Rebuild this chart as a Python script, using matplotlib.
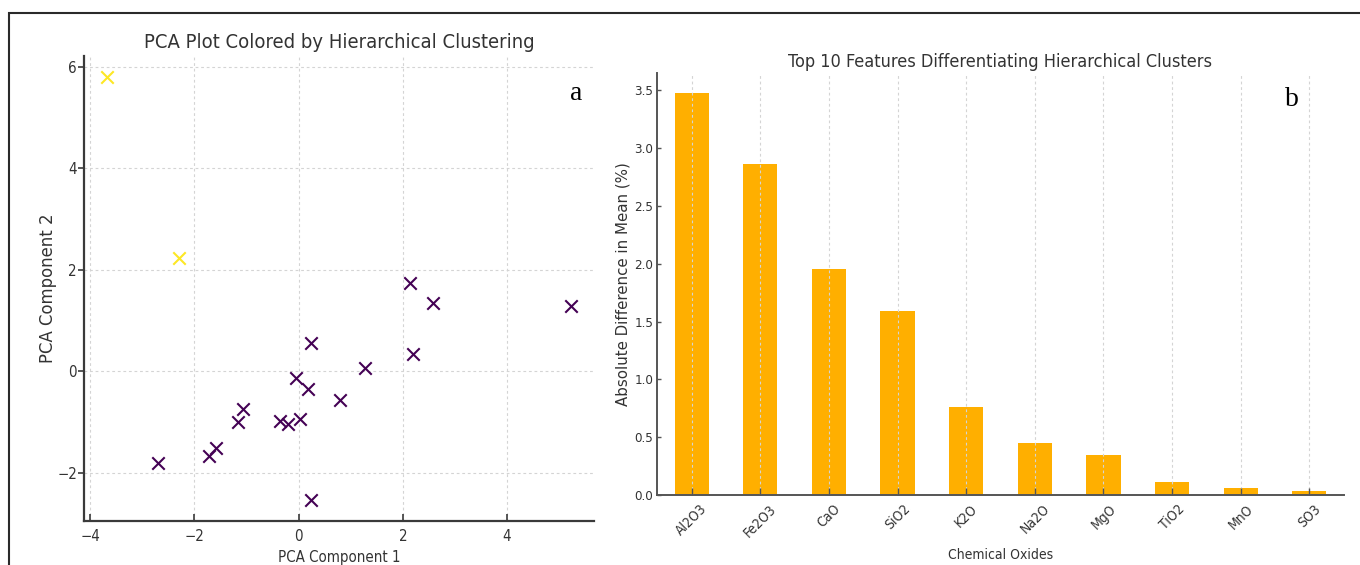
import matplotlib
matplotlib.use("Agg")
import matplotlib.pyplot as plt
from matplotlib.patches import Rectangle

plt.rcParams['font.family'] = ['DejaVu Sans']
plt.rcParams['font.stretch'] = 'condensed'

# PCA scores, cluster 0 (purple) and cluster 1 (yellow)
pc1_c0 = [2.13, 2.58, 5.23, 0.24, 2.19, 1.27, -0.05, 0.17, 0.80, -1.06,
          -1.17, -0.35, -0.20, 0.02, -1.59, -1.73, -2.70, 0.24]
pc2_c0 = [1.75, 1.35, 1.28, 0.55, 0.34, 0.06, -0.13, -0.34, -0.56, -0.75,
          -1.01, -0.98, -1.04, -0.95, -1.51, -1.68, -1.81, -2.53]
pc1_c1 = [-3.67, -2.29]
pc2_c1 = [5.80, 2.23]

# Top 10 oxides by absolute difference in cluster means
oxides = ['Al2O3', 'Fe2O3', 'CaO', 'SiO2', 'K2O', 'Na2O', 'MgO', 'TiO2', 'MnO', 'SO3']
abs_diff = [3.475, 2.865, 1.959, 1.594, 0.763, 0.446, 0.343, 0.116, 0.060, 0.037]

W, H = 1360, 565
fig = plt.figure(figsize=(W / 100, H / 100), dpi=100)

def px_axes(x0, x1, ytop, ybot):
    return fig.add_axes([x0 / W, 1 - ybot / H, (x1 - x0) / W, (ybot - ytop) / H])

spine_col = '#3a3a3a'
text_col = '#333333'
grid_kw = dict(color='#d4d4d4', linestyle=(0, (2.5, 2.5)), linewidth=0.8)

# ---- panel a: PCA scatter ----
ax1 = px_axes(84.3, 594.3, 56, 520.7)
ax1.scatter(pc1_c0, pc2_c0, marker='x', s=80, linewidths=1.5, color='#440154', zorder=3)
ax1.scatter(pc1_c1, pc2_c1, marker='x', s=80, linewidths=1.5, color='#fde725', zorder=3)
ax1.set_xticks([-4, -2, 0, 2, 4])
ax1.set_yticks([-2, 0, 2, 4, 6])
ax1.grid(True, **grid_kw)
ax1.set_axisbelow(True)
for s in ['top', 'right']:
    ax1.spines[s].set_visible(False)
for s in ['left', 'bottom']:
    ax1.spines[s].set_color(spine_col)
    ax1.spines[s].set_linewidth(1.6)
ax1.tick_params(axis='x', direction='in', length=5, width=1.2, color=spine_col,
                labelsize=10.8, labelcolor=text_col, pad=6)
ax1.tick_params(axis='y', direction='out', length=4, width=1.2, color=spine_col,
                labelsize=10.8, labelcolor=text_col, pad=1.2)
ax1.set_title('PCA Plot Colored by Hierarchical Clustering', fontsize=14.5,
              color=text_col, pad=6)
ax1.set_xlabel('PCA Component 1', fontsize=10.8, color=text_col, labelpad=4)
ax1.set_ylabel('PCA Component 2', fontsize=11.9, color=text_col, labelpad=0.5,
               fontstretch='normal')
ax1.text(0.965, 0.947, 'a', transform=ax1.transAxes, ha='center', va='top',
         fontsize=20, family='Liberation Serif', fontstretch='normal', color='black')

# ---- panel b: bar chart ----
ax2 = px_axes(657.4, 1343.6, 73.3, 495)
xpos = list(range(len(oxides)))
ax2.bar(xpos, abs_diff, width=0.5, color='#FFAF00', zorder=2)
ax2.set_xlim(-0.5, len(oxides) - 0.5)
ax2.set_ylim(0, max(abs_diff) * 1.05)
ax2.set_xticks(xpos)
ax2.set_xticklabels(oxides, rotation=45)
ax2.set_yticks([0.0, 0.5, 1.0, 1.5, 2.0, 2.5, 3.0, 3.5])
ax2.yaxis.set_major_formatter(matplotlib.ticker.FormatStrFormatter('%.1f'))
ax2.grid(True, axis='x', **grid_kw)
ax2.set_axisbelow(False)
for s in ['top', 'right']:
    ax2.spines[s].set_visible(False)
for s in ['left', 'bottom']:
    ax2.spines[s].set_color('#555555')
    ax2.spines[s].set_linewidth(1.4)
ax2.tick_params(axis='x', direction='in', length=5, width=1.0, color='#555555',
                labelsize=10, labelcolor=text_col, pad=5)
ax2.tick_params(axis='y', direction='in', length=3, width=1.0, color='#555555',
                labelsize=9.5, labelcolor=text_col, pad=3)
ax2.set_title('Top 10 Features Differentiating Hierarchical Clusters', fontsize=13,
              color=text_col, pad=4.5)
ax2.set_xlabel('Chemical Oxides', fontsize=10, color=text_col, labelpad=6)
ax2.set_ylabel('Absolute Difference in Mean (%)', fontsize=10.8, color=text_col,
               labelpad=3, fontstretch='normal')
ax2.text(0.925, 0.968, 'b', transform=ax2.transAxes, ha='center', va='top',
         fontsize=20, family='Liberation Serif', fontstretch='normal', color='black')

# outer frame
fig.patches.append(Rectangle((9 / W, -0.2), 1.2, 0.2 + (H - 13) / H,
                             transform=fig.transFigure, fill=False,
                             edgecolor='#2a2a2a', linewidth=1.5))

fig.savefig('out.png', dpi=100)
